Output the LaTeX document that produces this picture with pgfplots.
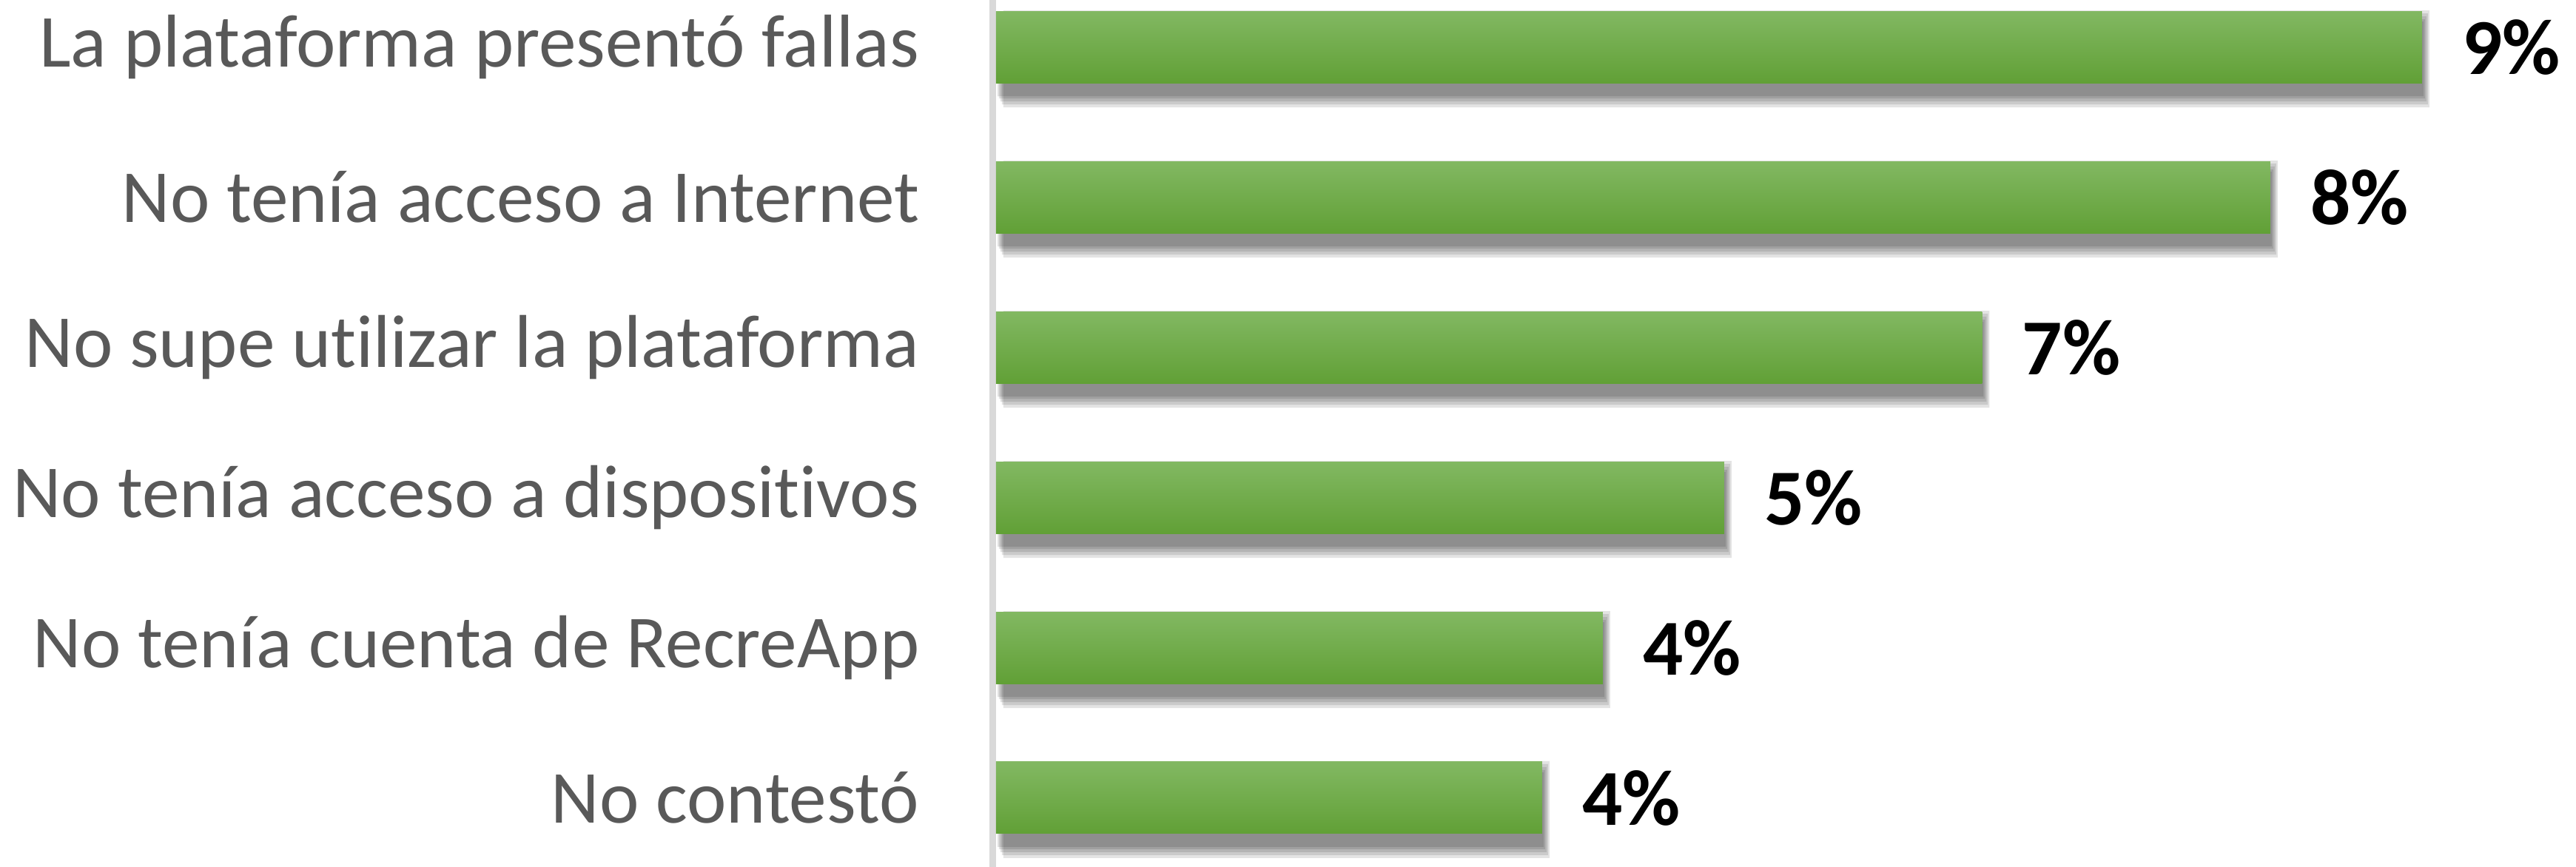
\documentclass[border=0pt]{standalone}
\usepackage{fontspec}
\setmainfont{Carlito}[Ligatures=NoCommon]
\usepackage{pgfplots}
\usepackage{pgfplotstable}
\pgfplotsset{compat=1.18}
\definecolor{barTop}{RGB}{130,184,98}
\definecolor{barBot}{RGB}{97,160,54}
\definecolor{axGray}{RGB}{217,217,217}
\definecolor{txtGray}{RGB}{89,89,89}

% value (%), category position, rounded label
\pgfplotstableread{
v   c  lbl
3.6 0  4\%
4.0 1  4\%
4.8 2  5\%
6.5 3  7\%
8.4 4  8\%
9.4 5  9\%
}\data

\begin{document}
\begin{tikzpicture}
\useasboundingbox (-67.075mm,0) rectangle (106.975mm,58.6mm);
\begin{axis}[
  at={(0,0)}, anchor=south west,
  scale only axis, width=106.975mm, height=58.6mm,
  xbar, bar width=4.85mm,
  xmin=-0.022, xmax=10.415,
  ymin=-0.4606, ymax=5.313,
  hide x axis,
  axis y line=left,
  axis line style={-},
  y axis line style={axGray, line width=0.45mm},
  ytick={0,...,5},
  yticklabels={No contestó, No tenía cuenta de RecreApp, No tenía acceso a dispositivos, No supe utilizar la plataforma, No tenía acceso a Internet, La plataforma presentó fallas},
  major tick length=0pt,
  yticklabel style={font=\fontsize{14.4}{16}\selectfont, text=txtGray, anchor=east, inner sep=0pt, xshift=-4.9mm},
  clip=false,
  shadow/.style={draw=none, fill=black, fill opacity=0.11, bar shift=-0.8mm, forget plot},
]
% soft shadow, built from a few widening translucent layers
\addplot[shadow, bar width=5.05mm, xshift=0.1mm] table[x=v,y=c] {\data};
\addplot[shadow, bar width=5.35mm, xshift=0.2mm] table[x=v,y=c] {\data};
\addplot[shadow, bar width=5.75mm, xshift=0.3mm] table[x=v,y=c] {\data};
\addplot[shadow, bar width=6.15mm, xshift=0.4mm] table[x=v,y=c] {\data};
\addplot[shadow, bar width=6.55mm, xshift=0.5mm] table[x=v,y=c] {\data};
% one plot per bar so each bar gets its own gradient
\pgfplotsinvokeforeach{0,...,5}{
  \addplot[draw=none, top color=barTop, bottom color=barBot, bar shift=0pt,
    restrict y to domain=#1:#1,
    nodes near coords, point meta=explicit symbolic,
    nodes near coords style={font=\fontsize{15.25}{16}\selectfont\bfseries, black, anchor=west, inner sep=0pt, xshift=2.65mm, opacity=1}]
    table[x=v,y=c,meta=lbl] {\data};
}
\end{axis}
\end{tikzpicture}
\end{document}
